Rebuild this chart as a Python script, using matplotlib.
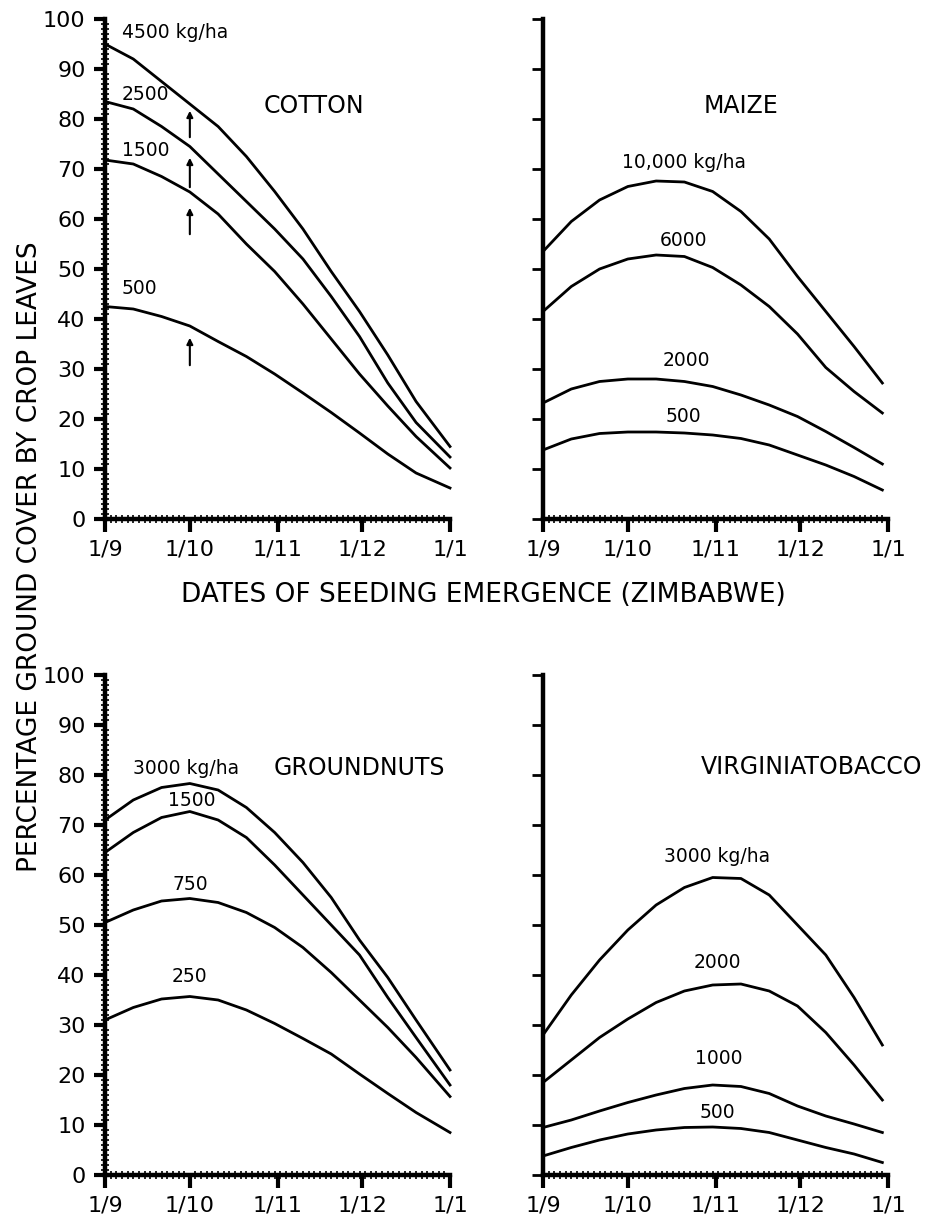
import matplotlib
matplotlib.use("Agg")
import matplotlib.pyplot as plt
from matplotlib.ticker import MultipleLocator, FixedLocator

plt.rcParams['font.family'] = ['DejaVu Sans']

# days after 1 September
days = [0, 10, 20, 30, 40, 50, 60, 70, 80, 90, 100, 110, 122]
days_r = [0, 10, 20, 30, 40, 50, 60, 70, 80, 90, 100, 110, 120]
month_ticks = [0, 30, 61, 91, 122]
month_labels = ['1/9', '1/10', '1/11', '1/12', '1/1']

cotton_4500 = [95, 92, 87.5, 83, 78.5, 72.5, 65.5, 58, 49.5, 41.5, 32.8, 23.5, 14.5]
cotton_2500 = [83.5, 82, 78.5, 74.5, 69, 63.5, 58, 52, 44.5, 36.5, 27.2, 19.3, 12.4]
cotton_1500 = [71.8, 71, 68.5, 65.4, 61, 55, 49.5, 43, 36, 29, 22.6, 16.5, 10.2]
cotton_500 = [42.5, 42, 40.5, 38.6, 35.5, 32.5, 29, 25.2, 21.3, 17.2, 13, 9.2, 6.2]

maize_10000 = [53.5, 59.5, 63.8, 66.5, 67.6, 67.4, 65.5, 61.5, 56, 48.5, 41.5, 34.5, 27.2]
maize_6000 = [41.5, 46.5, 50, 52, 52.8, 52.5, 50.3, 46.8, 42.5, 37, 30.3, 25.5, 21.2]
maize_2000 = [23.2, 26, 27.5, 28, 28, 27.5, 26.5, 24.8, 22.8, 20.5, 17.5, 14.3, 11]
maize_500 = [13.8, 16, 17.1, 17.4, 17.4, 17.2, 16.8, 16.1, 14.8, 12.8, 10.8, 8.5, 5.8]

gnut_3000 = [71, 75, 77.5, 78.3, 77, 73.5, 68.5, 62.5, 55.5, 47, 39.5, 31, 21]
gnut_1500 = [64.5, 68.5, 71.5, 72.7, 71, 67.5, 62, 56, 50, 44, 35.5, 27.5, 18]
gnut_750 = [50.5, 53, 54.8, 55.3, 54.5, 52.5, 49.5, 45.5, 40.5, 35, 29.5, 23.5, 15.7]
gnut_250 = [31, 33.5, 35.2, 35.7, 35, 33, 30.3, 27.3, 24.2, 20.2, 16.3, 12.5, 8.5]

tob_3000 = [28, 36, 43, 49, 54, 57.5, 59.5, 59.3, 56, 50, 44, 35.5, 26]
tob_2000 = [18.5, 23, 27.5, 31.2, 34.5, 36.8, 38, 38.2, 36.8, 33.8, 28.5, 22, 15]
tob_1000 = [9.5, 11, 12.8, 14.5, 16, 17.3, 18, 17.7, 16.3, 13.8, 11.8, 10.2, 8.5]
tob_500 = [3.8, 5.5, 7, 8.2, 9, 9.5, 9.6, 9.3, 8.5, 7, 5.5, 4.2, 2.5]

# cotton arrows at 1/10: (bottom, top)
arrow_x = 30
arrows = [(75.8, 82.2), (65.8, 72.8), (56.4, 62.8), (30.2, 36.8)]

fig = plt.figure(figsize=(9.46, 12.18), dpi=100)
W, H = 946.0, 1218.0


def make_axes(x0, y_bottom, labels):
    ax = fig.add_axes([x0 / W, (H - y_bottom) / H, 345 / W, 500 / H])
    ax.set_xlim(0, 122)
    ax.set_ylim(0, 100)
    for s in ['top', 'right']:
        ax.spines[s].set_visible(False)
    ax.spines['left'].set_linewidth(3.2)
    ax.spines['bottom'].set_linewidth(3.2)
    ax.xaxis.set_major_locator(FixedLocator(month_ticks))
    ax.set_xticklabels(month_labels, fontsize=16)
    ax.xaxis.set_minor_locator(MultipleLocator(2))
    ax.tick_params(axis='x', which='major', direction='out', length=9, width=3, pad=6)
    ax.tick_params(axis='x', which='minor', direction='inout', length=6, width=1.2)
    ax.yaxis.set_major_locator(MultipleLocator(10))
    if labels:
        ax.yaxis.set_minor_locator(MultipleLocator(1))
        ax.tick_params(axis='y', which='major', direction='out', length=8, width=3, pad=6, labelsize=16)
        ax.tick_params(axis='y', which='minor', direction='inout', length=6, width=1.2)
    else:
        ax.tick_params(axis='y', which='major', direction='out', length=8, width=2, labelleft=False)
    return ax


def curve(ax, x, y):
    ax.plot(x, y, color='black', lw=2.0, clip_on=False)


lab = dict(fontsize=13.5, color='black')
title = dict(fontsize=17, color='black')

# COTTON
ax = make_axes(105, 519, True)
for ys in [cotton_4500, cotton_2500, cotton_1500, cotton_500]:
    curve(ax, days, ys)
for lo, hi in arrows:
    ax.annotate('', xy=(arrow_x, hi), xytext=(arrow_x, lo),
                arrowprops=dict(arrowstyle='-|>', lw=1.5, color='black', mutation_scale=9))
ax.text(6, 97.2, '4500 kg/ha', ha='left', va='center', **lab)
ax.text(6, 84.8, '2500', ha='left', va='center', **lab)
ax.text(6, 73.8, '1500', ha='left', va='center', **lab)
ax.text(6, 46, '500', ha='left', va='center', **lab)
ax.text(74, 82.6, 'COTTON', ha='center', va='center', **title)

# MAIZE
ax = make_axes(543, 519, False)
for ys in [maize_10000, maize_6000, maize_2000, maize_500]:
    curve(ax, days_r, ys)
ax.text(49.7, 71.4, '10,000 kg/ha', ha='center', va='center', **lab)
ax.text(49.7, 55.8, '6000', ha='center', va='center', **lab)
ax.text(50.7, 31.6, '2000', ha='center', va='center', **lab)
ax.text(49.7, 20.6, '500', ha='center', va='center', **lab)
ax.text(70, 82.6, 'MAIZE', ha='center', va='center', **title)

# GROUNDNUTS
ax = make_axes(105, 1175, True)
for ys in [gnut_3000, gnut_1500, gnut_750, gnut_250]:
    curve(ax, days, ys)
ax.text(10, 81.4, '3000 kg/ha', ha='left', va='center', **lab)
ax.text(90, 81.4, 'GROUNDNUTS', ha='center', va='center', **title)
ax.text(30.7, 75, '1500', ha='center', va='center', **lab)
ax.text(30, 58, '750', ha='center', va='center', **lab)
ax.text(29.8, 39.7, '250', ha='center', va='center', **lab)

# VIRGINIA TOBACCO
ax = make_axes(543, 1175, False)
for ys in [tob_3000, tob_2000, tob_1000, tob_500]:
    curve(ax, days_r, ys)
ax.text(55.7, 81.5, 'VIRGINIATOBACCO', ha='left', va='center', clip_on=False, **title)
ax.text(61.4, 63.8, '3000 kg/ha', ha='center', va='center', **lab)
ax.text(61.7, 42.5, '2000', ha='center', va='center', **lab)
ax.text(62, 23.2, '1000', ha='center', va='center', **lab)
ax.text(61.7, 12.4, '500', ha='center', va='center', **lab)

fig.text(30 / W, 1 - 557 / H, 'PERCENTAGE GROUND COVER BY CROP LEAVES',
         rotation=90, ha='center', va='center', fontsize=19)
fig.text(483 / W, 1 - 595 / H, 'DATES OF SEEDING EMERGENCE (ZIMBABWE)',
         ha='center', va='center', fontsize=19)

fig.savefig('out.png', dpi=100, facecolor='white')
